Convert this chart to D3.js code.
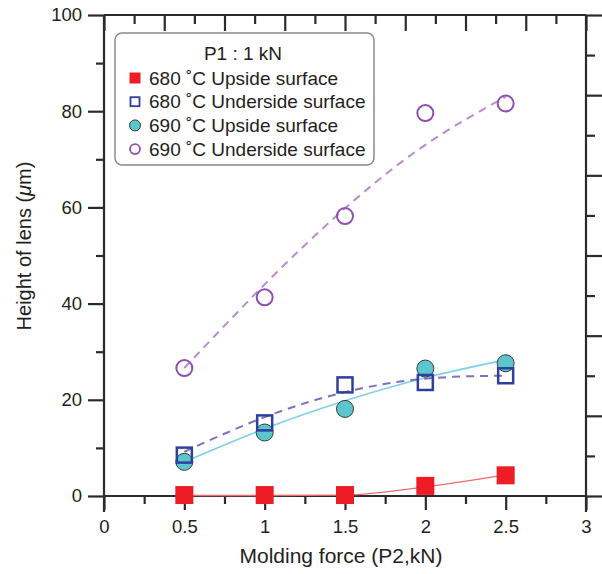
<!DOCTYPE html>
<html>
<head>
<meta charset="utf-8">
<script src="https://cdn.jsdelivr.net/npm/d3@7"></script>
<style>
  body { margin: 0; background: #fff; }
  svg text { font-family: "Liberation Sans", Arial, sans-serif; fill: #231f20; }
</style>
</head>
<body>
<svg id="chart" width="602" height="574"></svg>
<script>
// data
const force = [0.5, 1, 1.5, 2, 2.5];
const up680 = [0.2, 0.2, 0.2, 2.1, 4.3];
const under680 = [8.5, 15.2, 23.1, 23.6, 25.0];
const up690 = [7.1, 13.2, 18.1, 26.5, 27.6];
const under690 = [26.6, 41.3, 58.2, 79.6, 81.6];

// fitted trend curves (at the same forces)
const fitUp680 = [0.1, 0.1, 0.2, 1.9, 4.4];
const fitUnder680 = [9.2, 16.4, 21.6, 24.4, 25.0];
const fitUp690 = [7.1, 14.0, 19.8, 24.6, 28.3];
const fitUnder690 = [26.6, 44.0, 59.8, 73.0, 83.0];

const seriesNames = ["680 \u02DAC Upside surface", "680 \u02DAC Underside surface",
                     "690 \u02DAC Upside surface", "690 \u02DAC Underside surface"];
const legendTitle = "P1 : 1 kN";

const xTicks = [0, 0.5, 1, 1.5, 2, 2.5, 3];
const xMinor = [0.25, 0.75, 1.25, 1.75, 2.25, 2.75];
const yTicks = [0, 20, 40, 60, 80, 100];
const yMinor = [10, 30, 50, 70, 90];

const plotLeft = 104, plotRight = 586, plotTop = 15, plotBottom = 496;
const axisColor = "#2b2b2b";

const svg = d3.select("#chart");

const x = d3.scaleLinear().domain([0, 3]).range([plotLeft, plotRight]);
const y = d3.scaleLinear().domain([0, 100]).range([plotBottom, plotTop]);
// top and right frame axes carry their own unlabeled tick spacing
const xTop = d3.scaleLinear().domain([0, 8]).range([plotLeft, plotRight]);
const yRight = d3.scaleLinear().domain([0, 6]).range([plotBottom, plotTop]);

function styleAxis(g) {
  g.select(".domain").remove();
  g.selectAll("line").attr("stroke", axisColor).attr("stroke-width", 2.2);
  g.selectAll("text").style("font-size", "18.5px").attr("fill", "#231f20");
}

// frame lines
svg.append("line").attr("x1", plotLeft).attr("x2", plotLeft).attr("y1", plotTop).attr("y2", plotBottom + 16)
  .attr("stroke", axisColor).attr("stroke-width", 2.2);
svg.append("line").attr("x1", plotRight).attr("x2", plotRight).attr("y1", plotTop).attr("y2", plotBottom + 16)
  .attr("stroke", axisColor).attr("stroke-width", 2.2);
svg.append("line").attr("x1", plotLeft).attr("x2", plotRight).attr("y1", plotTop).attr("y2", plotTop)
  .attr("stroke", axisColor).attr("stroke-width", 2.2);
svg.append("line").attr("x1", plotLeft).attr("x2", plotRight).attr("y1", plotBottom).attr("y2", plotBottom)
  .attr("stroke", axisColor).attr("stroke-width", 2.2);

// bottom axis
svg.append("g").attr("transform", `translate(0,${plotBottom})`)
  .call(d3.axisBottom(x).tickValues(xTicks).tickSize(14).tickPadding(10).tickFormat(d => d))
  .call(styleAxis);
svg.append("g").attr("transform", `translate(0,${plotBottom})`)
  .call(d3.axisBottom(x).tickValues(xMinor).tickSize(8).tickFormat(""))
  .call(styleAxis);

// left axis
svg.append("g").attr("transform", `translate(${plotLeft},0)`)
  .call(d3.axisLeft(y).tickValues(yTicks).tickSize(16).tickPadding(6))
  .call(styleAxis);
svg.append("g").attr("transform", `translate(${plotLeft},0)`)
  .call(d3.axisLeft(y).tickValues(yMinor).tickSize(8).tickFormat(""))
  .call(styleAxis);

// top axis, ticks inward
svg.append("g").attr("transform", `translate(0,${plotTop})`)
  .call(d3.axisBottom(xTop).tickValues(d3.range(0, 9)).tickSize(16).tickFormat(""))
  .call(styleAxis);
svg.append("g").attr("transform", `translate(0,${plotTop})`)
  .call(d3.axisBottom(xTop).tickValues(d3.range(0.5, 8, 1)).tickSize(9).tickFormat(""))
  .call(styleAxis);

// right axis, ticks outward
svg.append("g").attr("transform", `translate(${plotRight},0)`)
  .call(d3.axisRight(yRight).tickValues(d3.range(0, 7)).tickSize(16).tickFormat(""))
  .call(styleAxis);
svg.append("g").attr("transform", `translate(${plotRight},0)`)
  .call(d3.axisRight(yRight).tickValues(d3.range(0.5, 6, 1)).tickSize(9).tickFormat(""))
  .call(styleAxis);

// axis titles
svg.append("text").attr("x", 341).attr("y", 563).attr("text-anchor", "middle")
  .style("font-size", "21px").text("Molding force (P2,kN)");
const yTitle = svg.append("text").attr("transform", "translate(31,246) rotate(-90)")
  .attr("text-anchor", "middle").style("font-size", "20px");
yTitle.append("tspan").text("Height of lens (");
yTitle.append("tspan").style("font-style", "italic").text("\u03BC");
yTitle.append("tspan").text("m)");

// fit curves
const line = d3.line().x((d, i) => x(force[i])).y(d => y(d)).curve(d3.curveNatural);
const flatLine = d3.line().x((d, i) => x(force[i])).y(d => y(d)).curve(d3.curveMonotoneX);
const plot = svg.append("g");
plot.append("path").datum(fitUp680).attr("d", flatLine)
  .attr("fill", "none").attr("stroke", "#f26a6a").attr("stroke-width", 1.3);
plot.append("path").datum(fitUp690).attr("d", line)
  .attr("fill", "none").attr("stroke", "#7fd0ee").attr("stroke-width", 1.6);
plot.append("path").datum(fitUnder680).attr("d", line)
  .attr("fill", "none").attr("stroke", "#7b70c4").attr("stroke-width", 2).attr("stroke-dasharray", "8,6");
plot.append("path").datum(fitUnder690).attr("d", line)
  .attr("fill", "none").attr("stroke", "#b98bd0").attr("stroke-width", 2).attr("stroke-dasharray", "8,6");

// markers
plot.selectAll(".up680").data(up680).join("rect").attr("class", "up680")
  .attr("x", (d, i) => x(force[i]) - 9).attr("y", d => y(d) - 9)
  .attr("width", 18).attr("height", 18).attr("fill", "#ee1c24");
plot.selectAll(".up690").data(up690).join("circle").attr("class", "up690")
  .attr("cx", (d, i) => x(force[i])).attr("cy", d => y(d)).attr("r", 8.5)
  .attr("fill", "#5cc6cc").attr("stroke", "#3a3a3a").attr("stroke-width", 1);
plot.selectAll(".under680").data(under680).join("rect").attr("class", "under680")
  .attr("x", (d, i) => x(force[i]) - 7.5).attr("y", d => y(d) - 7.5)
  .attr("width", 15).attr("height", 15).attr("fill", "none")
  .attr("stroke", "#2e3f9e").attr("stroke-width", 2.5);
plot.selectAll(".under690").data(under690).join("circle").attr("class", "under690")
  .attr("cx", (d, i) => x(force[i])).attr("cy", d => y(d)).attr("r", 8)
  .attr("fill", "none").attr("stroke", "#8e4fb0").attr("stroke-width", 2);

// legend
const legend = svg.append("g");
legend.append("rect").attr("x", 115).attr("y", 33).attr("width", 259).attr("height", 132)
  .attr("rx", 7).attr("fill", "#fff").attr("stroke", "#8a8a8a").attr("stroke-width", 1.5);
legend.append("text").attr("x", 243).attr("y", 60).attr("text-anchor", "middle")
  .style("font-size", "19px").text(legendTitle);
const rows = legend.selectAll(".row").data(seriesNames).join("g").attr("class", "row")
  .attr("transform", (d, i) => `translate(0,${84.5 + i * 23.7})`);
rows.append("text").attr("x", 149).attr("y", 0).style("font-size", "19px").text(d => d);
rows.each(function (d, i) {
  const g = d3.select(this);
  if (i === 0) g.append("rect").attr("x", 129.5).attr("y", -12).attr("width", 11).attr("height", 11).attr("fill", "#ee1c24");
  if (i === 1) g.append("rect").attr("x", 130.5).attr("y", -11).attr("width", 9).attr("height", 9)
    .attr("fill", "none").attr("stroke", "#2e3f9e").attr("stroke-width", 1.8);
  if (i === 2) g.append("circle").attr("cx", 135).attr("cy", -6.5).attr("r", 5.5)
    .attr("fill", "#5cc6cc").attr("stroke", "#3a3a3a").attr("stroke-width", 1);
  if (i === 3) g.append("circle").attr("cx", 135).attr("cy", -6.5).attr("r", 5)
    .attr("fill", "none").attr("stroke", "#8e4fb0").attr("stroke-width", 1.8);
});
</script>
</body>
</html>
